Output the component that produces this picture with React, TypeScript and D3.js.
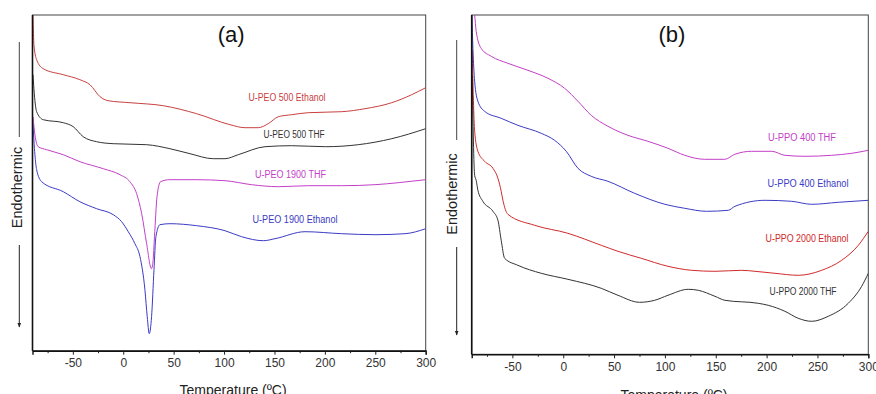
import React, { useEffect, useRef } from 'react';
import * as d3 from 'd3';

// DSC traces, [temperature (°C), heat flow (a.u., endo up)]
const peo500Ethanol: [number, number][] = [
  [-89.5, 336], [-88.6, 306], [-85.9, 291], [-79.4, 282], [-59.5, 276], [-43, 271], [-33, 266],
  [-23, 254], [-15, 250], [6.6, 248], [39.7, 245], [72.8, 237], [105.9, 226], [120.7, 223],
  [133.9, 223], [143.8, 227], [153.8, 234], [167, 236], [183.5, 238], [216.7, 239], [239.8, 242],
  [266.3, 248], [286.1, 256], [300, 263],
];
const peo500Thf: [number, number][] = [
  [-89.5, 276], [-88.6, 262], [-85.9, 239], [-79.4, 231], [-59.5, 228], [-49.6, 224], [-39.7, 214],
  [-26.4, 209], [-9.9, 207], [23.2, 206], [46.3, 202], [66.2, 197], [89.3, 192], [100.9, 192],
  [114.1, 196], [140.6, 204], [167, 205], [200.7, 204], [233.1, 206], [266.3, 212], [300, 222],
];
const peo1900Thf: [number, number][] = [
  [-89.5, 234], [-87.6, 216], [-84.3, 204], [-76, 201], [-59.5, 196], [-43, 189], [-19.8, 182],
  [-3.3, 176], [6.6, 169], [13.3, 157], [18.3, 137], [23.2, 107], [28, 82], [29.5, 89], [31, 114],
  [33.5, 154], [37, 169], [46, 171], [72.3, 171], [101, 170], [127.4, 166], [153.8, 164],
  [183.5, 165], [216.7, 165], [249.7, 166], [272.8, 168], [300, 171],
];
const peo1900Ethanol: [number, number][] = [
  [-89.5, 226], [-87.6, 196], [-85.9, 181], [-80.9, 169], [-59.5, 159], [-43, 149], [-26.4, 142],
  [-9.9, 136], [-1.6, 129], [5, 119], [11.6, 107], [16.6, 94], [21.5, 61], [23.8, 34], [25.8, 17],
  [28.1, 34], [30.5, 81], [32.4, 114], [36.4, 126], [46.3, 127], [72.8, 125], [100.9, 120],
  [117.4, 114], [139, 110], [150.5, 112], [180.3, 119], [216.7, 117], [249.7, 116], [279.5, 117],
  [300, 122],
];

const ppo400Thf: [number, number][] = [
  [-88.5, 345], [-87.1, 339], [-85.6, 323], [-80.7, 306], [-70.8, 298], [-54.4, 291], [-34.7, 284],
  [-15, 276], [1.4, 266], [14.5, 253], [27.5, 239], [44, 228], [63.6, 219], [83.3, 213], [103, 206],
  [119.5, 199], [139.2, 195], [158.9, 195], [168.7, 200], [185.3, 203], [205, 203], [218, 199],
  [237.8, 198], [264, 199], [283.7, 201], [300, 204],
];
const ppo400Ethanol: [number, number][] = [
  [-89.8, 339], [-88.8, 306], [-87.1, 273], [-83.9, 253], [-77.3, 243], [-61, 236], [-44.6, 229],
  [-21.6, 221], [-8.5, 214], [3, 203], [14.5, 186], [27.5, 178], [44, 173], [70.2, 161], [100, 150],
  [119.5, 146], [141, 143], [162.3, 144], [168.9, 148], [198.4, 154], [224.6, 153], [244.3, 150],
  [270.5, 152], [300, 154],
];
const ppo2000Ethanol: [number, number][] = [
  [-89.5, 304], [-87.1, 223], [-83.9, 203], [-77.3, 193], [-69.1, 186], [-64.2, 176], [-61, 163],
  [-59.3, 154], [-54.4, 140], [-28.1, 129], [4.6, 121], [37.4, 109], [53.8, 103], [76.7, 96],
  [103, 88], [126.3, 84], [149.2, 83], [175.5, 84], [188.6, 83], [208.2, 81], [231.1, 79],
  [254.2, 84], [273.8, 94], [290.2, 109], [300, 123],
];
const ppo2000Thf: [number, number][] = [
  [-89.5, 279], [-87.1, 179], [-85.6, 174], [-83.9, 164], [-79, 153], [-69.1, 143], [-64.2, 134],
  [-61, 114], [-57.6, 96], [-44.6, 89], [-21.6, 81], [4.6, 75], [37.4, 66], [53.8, 59], [75.1, 52],
  [89.9, 54], [103, 59], [123, 65], [132.8, 64], [149.2, 58], [159, 54], [191.8, 51], [201.6, 49],
  [218, 43], [231.1, 36], [244.3, 33], [260.6, 38], [280.3, 51], [293.5, 68], [300, 81],
];

const majorTicks = [-50, 0, 50, 100, 150, 200, 250, 300];
const minorTicks = [-75, -25, 25, 75, 125, 175, 225, 275];

const panels = [
  {
    id: 'a', title: '(a)', left: 32.5, right: 425.7, top: 15, bottom: 350.7, yMax: 335.7,
    yLabelX: 21.5, yLabelY: 187.5, barX: 19.3, barTop: 42, barBottom: 137, arrowTop: 245, arrowBottom: 327,
    xTitleY: 395,
    series: [
      { data: peo500Ethanol, color: '#c8403f', label: 'U-PEO 500 Ethanol', lx: 287, ly: 101, lw: 77 },
      { data: peo500Thf, color: '#333333', label: 'U-PEO 500 THF', lx: 294, ly: 137.5, lw: 61 },
      { data: peo1900Thf, color: '#c23fc8', label: 'U-PEO 1900 THF', lx: 290.5, ly: 178, lw: 71 },
      { data: peo1900Ethanol, color: '#3b3bc4', label: 'U-PEO 1900 Ethanol', lx: 295, ly: 223, lw: 85 },
    ],
  },
  {
    id: 'b', title: '(b)', left: 471.7, right: 868.3, top: 15, bottom: 354.3, yMax: 339.3,
    yLabelX: 456.5, yLabelY: 194, barX: 456.7, barTop: 40, barBottom: 140, arrowTop: 247, arrowBottom: 335,
    xTitleY: 399.5,
    series: [
      { data: ppo400Thf, color: '#c23fc8', label: 'U-PPO 400 THF', lx: 802, ly: 141, lw: 68 },
      { data: ppo400Ethanol, color: '#3b3bc4', label: 'U-PPO 400 Ethanol', lx: 808, ly: 186.5, lw: 81 },
      { data: ppo2000Ethanol, color: '#d02a2a', label: 'U-PPO 2000 Ethanol', lx: 807, ly: 241.5, lw: 83 },
      { data: ppo2000Thf, color: '#333333', label: 'U-PPO 2000 THF', lx: 803, ly: 295, lw: 67 },
    ],
  },
];

export default function App() {
  const svgRef = useRef<SVGSVGElement>(null);

  useEffect(() => {
    const svg = d3.select(svgRef.current);
    svg.selectAll('*').remove();

    const defs = svg.append('defs');
    defs
      .append('marker')
      .attr('id', 'arrow')
      .attr('viewBox', '0 0 10 10')
      .attr('refX', 9)
      .attr('refY', 5)
      .attr('markerWidth', 5)
      .attr('markerHeight', 6)
      .attr('orient', 'auto')
      .append('path')
      .attr('d', 'M0,1 L10,5 L0,9 Z')
      .attr('fill', '#222');

    panels.forEach((p) => {
      const x = d3.scaleLinear().domain([-90, 300]).range([p.left, p.right]);
      const y = d3.scaleLinear().domain([0, p.yMax]).range([p.bottom, p.top]);

      defs
        .append('clipPath')
        .attr('id', `clip-${p.id}`)
        .append('rect')
        .attr('x', p.left)
        .attr('y', p.top)
        .attr('width', p.right - p.left)
        .attr('height', p.bottom - p.top);

      const g = svg.append('g');

      // frame
      g.append('rect')
        .attr('x', p.left)
        .attr('y', p.top)
        .attr('width', p.right - p.left)
        .attr('height', p.bottom - p.top)
        .attr('fill', 'none')
        .attr('stroke', '#444')
        .attr('stroke-width', 1);

      // curves
      const line = d3
        .line<[number, number]>()
        .x((d) => x(d[0]))
        .y((d) => y(d[1]))
        .curve(d3.curveMonotoneX);
      const curves = g.append('g').attr('clip-path', `url(#clip-${p.id})`);
      p.series.forEach((s) => {
        curves
          .append('path')
          .attr('d', line(s.data))
          .attr('fill', 'none')
          .attr('stroke', s.color)
          .attr('stroke-width', 1);
      });

      // left axis line
      g.append('line')
        .attr('x1', p.left)
        .attr('x2', p.left)
        .attr('y1', p.top)
        .attr('y2', p.bottom)
        .attr('stroke', '#111')
        .attr('stroke-width', 1.6);

      // bottom axis
      const xAxis = d3
        .axisBottom(x)
        .tickValues(majorTicks)
        .tickSize(4)
        .tickPadding(4)
        .tickFormat((d) => String(d));
      const ax = g.append('g').attr('transform', `translate(0,${p.bottom})`).call(xAxis);
      ax.select('.domain').attr('stroke', '#111').attr('stroke-width', 1.4);
      ax.selectAll('.tick line').attr('stroke', '#222');
      ax.selectAll('.tick text')
        .attr('font-family', 'Liberation Sans, Arial, sans-serif')
        .attr('font-size', 12)
        .attr('fill', '#333');
      const minorAxis = d3.axisBottom(x).tickValues(minorTicks).tickSize(2.5).tickFormat(() => '');
      const mx = g.append('g').attr('transform', `translate(0,${p.bottom})`).call(minorAxis);
      mx.select('.domain').remove();
      mx.selectAll('.tick line').attr('stroke', '#222');

      // series labels
      p.series.forEach((s) => {
        g.append('text')
          .attr('x', s.lx)
          .attr('y', s.ly)
          .attr('text-anchor', 'middle')
          .attr('font-family', 'Liberation Sans Narrow, Arial Narrow, Liberation Sans, Arial, sans-serif')
          .attr('font-size', 10)
          .attr('textLength', s.lw)
          .attr('lengthAdjust', 'spacingAndGlyphs')
          .attr('fill', s.color)
          .text(s.label);
      });

      // panel title
      g.append('text')
        .attr('x', (p.left + p.right) / 2 + 2)
        .attr('y', 42)
        .attr('text-anchor', 'middle')
        .attr('font-family', 'Liberation Sans, Arial, sans-serif')
        .attr('font-size', 22)
        .attr('fill', '#111')
        .text(p.title);

      // axis titles
      g.append('text')
        .attr('x', (p.left + p.right) / 2 + 4)
        .attr('y', p.xTitleY)
        .attr('text-anchor', 'middle')
        .attr('font-family', 'Liberation Sans, Arial, sans-serif')
        .attr('font-size', 14)
        .attr('fill', '#222')
        .text('Temperature (ºC)');

      g.append('text')
        .attr('transform', `translate(${p.yLabelX},${p.yLabelY}) rotate(-90)`)
        .attr('text-anchor', 'middle')
        .attr('font-family', 'Liberation Sans, Arial, sans-serif')
        .attr('font-size', 14.5)
        .attr('fill', '#222')
        .text('Endothermic');

      g.append('line')
        .attr('x1', p.barX)
        .attr('x2', p.barX)
        .attr('y1', p.barTop)
        .attr('y2', p.barBottom)
        .attr('stroke', '#444')
        .attr('stroke-width', 1);

      g.append('line')
        .attr('x1', p.barX)
        .attr('x2', p.barX)
        .attr('y1', p.arrowTop)
        .attr('y2', p.arrowBottom)
        .attr('stroke', '#222')
        .attr('stroke-width', 1)
        .attr('marker-end', 'url(#arrow)');
    });
  }, []);

  return (
    <svg
      ref={svgRef}
      width={876}
      height={394}
      style={{ position: 'absolute', left: 0, top: 0, background: '#fff' }}
    ></svg>
  );
}
